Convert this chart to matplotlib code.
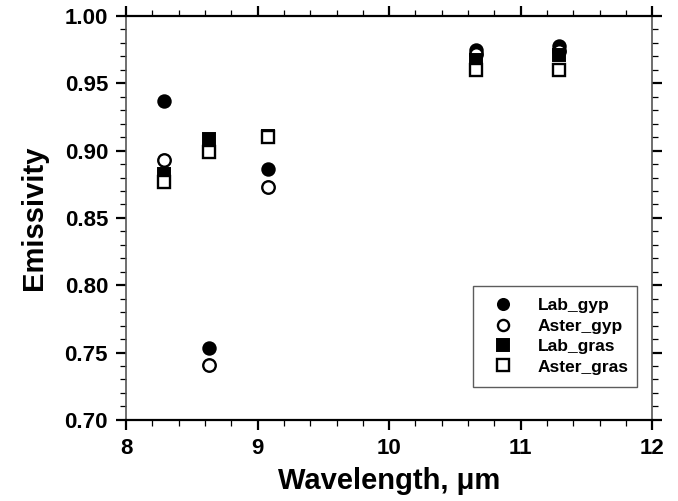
import matplotlib
matplotlib.use("Agg")
import matplotlib.pyplot as plt
from matplotlib.ticker import MultipleLocator, FormatStrFormatter

plt.rcParams['font.family'] = ['Liberation Sans', 'DejaVu Sans']
plt.rcParams['font.weight'] = 'bold'

wavelength = [8.29, 8.63, 9.08, 10.66, 11.29]
lab_gyp = [0.937, 0.753, 0.886, 0.975, 0.978]
aster_gyp = [0.893, 0.741, 0.873, 0.972, 0.974]
lab_gras = [0.883, 0.909, 0.911, 0.967, 0.971]
aster_gras = [0.877, 0.899, 0.910, 0.960, 0.960]

fig = plt.figure(figsize=(6.78, 5.01), dpi=100)
ax = fig.add_axes([0.186, 0.162, 0.776, 0.806])

ms = 9
ax.plot(wavelength, lab_gyp, 'o', ms=ms, mfc='black', mec='black', mew=1.4, label='Lab_gyp', zorder=3)
ax.plot(wavelength, aster_gyp, 'o', ms=ms, mfc='white', mec='black', mew=1.7, label='Aster_gyp', zorder=3)
ax.plot(wavelength, lab_gras, 's', ms=ms - 0.5, mfc='black', mec='black', mew=1.4, label='Lab_gras', zorder=3)
ax.plot(wavelength, aster_gras, 's', ms=ms - 0.5, mfc='white', mec='black', mew=1.7, label='Aster_gras', zorder=3)

ax.set_xlim(8, 12)
ax.set_ylim(0.70, 1.00)
ax.xaxis.set_major_locator(MultipleLocator(1))
ax.xaxis.set_minor_locator(MultipleLocator(0.2))
ax.yaxis.set_major_locator(MultipleLocator(0.05))
ax.yaxis.set_minor_locator(MultipleLocator(0.01))
ax.yaxis.set_major_formatter(FormatStrFormatter('%.2f'))

ax.tick_params(which='both', direction='out', top=True, right=True,
               labeltop=False, labelright=False)
ax.tick_params(which='major', length=7, width=1.6, labelsize=16, pad=6)
ax.tick_params(which='minor', length=4, width=0.9)

for side in ['top', 'bottom']:
    ax.spines[side].set_linewidth(1.6)
    ax.spines[side].set_color('black')
for side in ['left', 'right']:
    ax.spines[side].set_linewidth(1.2)
    ax.spines[side].set_color('#555555')

for lab in ax.get_xticklabels() + ax.get_yticklabels():
    lab.set_fontweight('bold')

ax.set_xlabel('Wavelength, μm', fontsize=21, fontweight='bold', labelpad=6)
ax.set_ylabel('Emissivity', fontsize=21, fontweight='bold', labelpad=12)

leg = ax.legend(loc='lower left', bbox_to_anchor=(0.66, 0.082, 0.311, 0.252),
                mode='expand', frameon=True, fancybox=False, shadow=False,
                prop={'weight': 'bold', 'size': 12.5}, handletextpad=1.0,
                borderpad=0.7, labelspacing=0.3, borderaxespad=0)
leg.get_frame().set_edgecolor('#333333')
leg.get_frame().set_linewidth(1.0)
for h in leg.legend_handles:
    h.set_markersize(8)

fig.savefig('out.png', dpi=100)
